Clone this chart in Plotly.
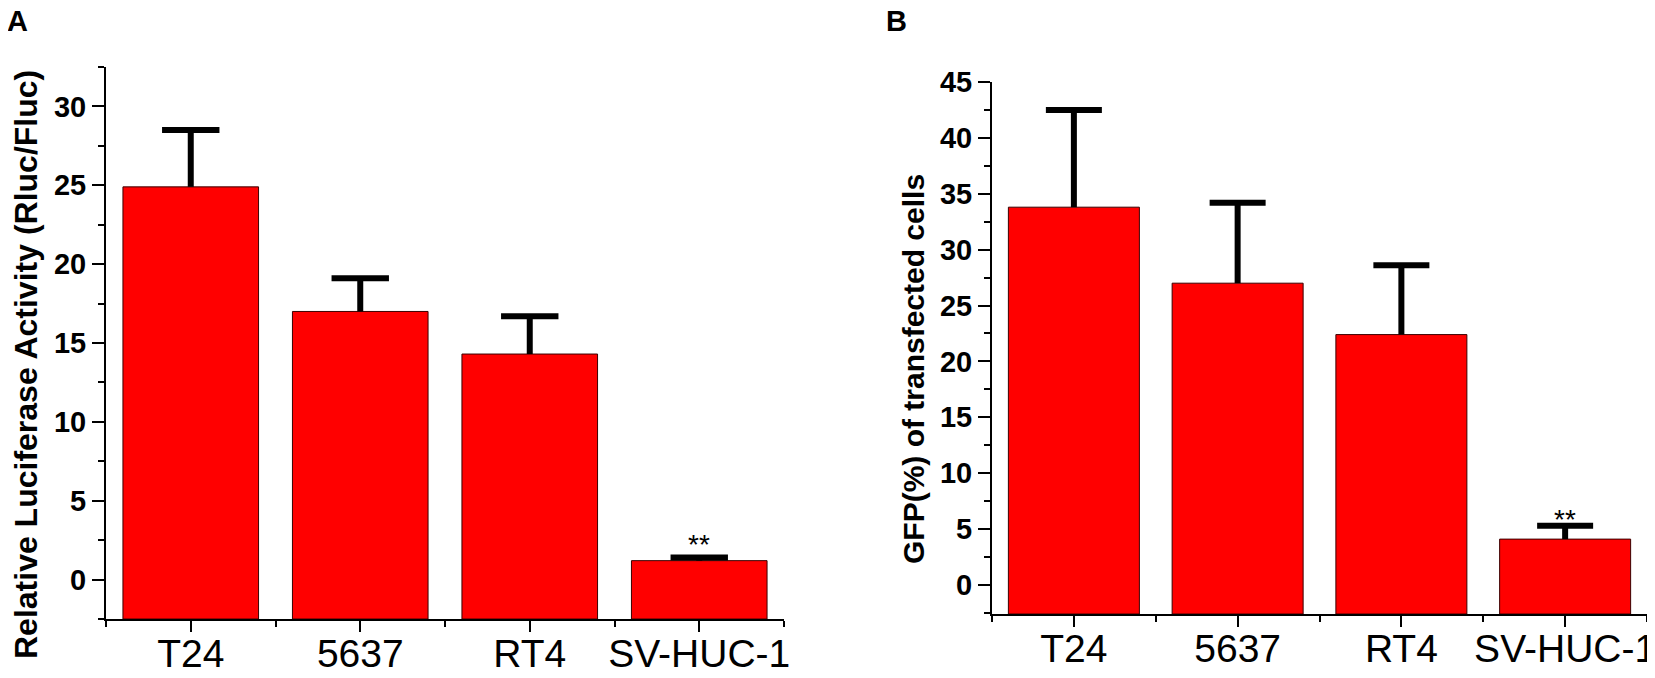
import plotly.graph_objects as go

cell_lines = ["T24", "5637", "RT4", "SV-HUC-1"]

luc_mean = [24.9, 17.0, 14.3, 1.2]
luc_err = [3.6, 2.1, 2.4, 0.2]

gfp_mean = [33.8, 27.0, 22.4, 4.1]
gfp_err = [8.7, 7.2, 6.2, 1.2]

# significance marks, only on the last bar
sig_marks = ["", "", "", "**"]

FONT = "Liberation Sans, Arial, sans-serif"
BAR_RED = "#ff0000"

# the page body keeps its default 8px margin, so the figure is drawn
# 16px smaller than the window and positions are window pixels minus 8
W, H, OFF = 1639, 662, 8


def px_x(p):
    return (p - OFF) / W


def px_y(p):
    return 1 - (p - OFF) / H


xpos = list(range(len(cell_lines)))
minor_x = [i - 0.5 for i in range(len(cell_lines) + 1)]

LUC_RANGE = [-2.5, 32.5]
GFP_RANGE = [-2.6, 45]


def add_panel(fig, mean, err, ymin, xa, ya, cap_px, star_shift):
    # bars start at the bottom of the axis, like in the original figure
    fig.add_trace(go.Bar(
        x=xpos, y=[m - ymin for m in mean], base=ymin, width=0.8,
        marker=dict(color=BAR_RED, line=dict(color="#3a0000", width=1)),
        error_y=dict(type="data", symmetric=False, array=err,
                     arrayminus=[0] * len(err), width=0,
                     thickness=6, color="black"),
        xaxis=xa, yaxis=ya, showlegend=False,
    ))
    # caps of the error bars
    fig.add_trace(go.Scatter(
        x=xpos, y=[m + e for m, e in zip(mean, err)], mode="markers",
        marker=dict(symbol="line-ew", size=cap_px,
                    line=dict(color="black", width=6)),
        xaxis=xa, yaxis=ya, showlegend=False, hoverinfo="skip",
    ))
    for x, m, e, s in zip(xpos, mean, err, sig_marks):
        if s:
            fig.add_annotation(x=x, y=m + e, xref=xa, yref=ya, text=s,
                               showarrow=False, yanchor="bottom",
                               yshift=star_shift,
                               font=dict(family=FONT, size=28, color="black"))


fig = go.Figure()
add_panel(fig, luc_mean, luc_err, LUC_RANGE[0], "x", "y", 41, -5)
add_panel(fig, gfp_mean, gfp_err, GFP_RANGE[0], "x2", "y2", 40, -11)

xcommon = dict(
    range=[-0.5, len(cell_lines) - 0.5], tickmode="array", tickvals=xpos,
    ticktext=cell_lines, ticks="outside", ticklen=11, tickwidth=2,
    tickcolor="black", showline=True, linewidth=2, linecolor="black",
    showgrid=False, zeroline=False, ticklabeloverflow="allow",
    ticklabelstandoff=-12,
    tickfont=dict(family=FONT, size=39, color="black"),
    minor=dict(tickmode="array", tickvals=minor_x, ticks="outside",
               ticklen=6, tickwidth=2, tickcolor="black"),
)
ycommon = dict(
    ticks="outside", ticklen=12, tickwidth=2, tickcolor="black",
    showline=True, linewidth=2, linecolor="black", showgrid=False,
    zeroline=False, dtick=5, tick0=0,
    tickfont=dict(family=FONT, size=29, color="black", weight="bold"),
    minor=dict(dtick=2.5, ticks="outside", ticklen=6, tickwidth=2,
               tickcolor="black"),
)

fig.update_layout(
    width=W, height=H,
    margin=dict(l=0, r=0, t=0, b=0, autoexpand=False),
    plot_bgcolor="white", paper_bgcolor="white",
    xaxis=dict(domain=[px_x(106), px_x(784)], anchor="y", **xcommon),
    yaxis=dict(domain=[px_y(619), px_y(67)], anchor="x",
               range=LUC_RANGE, **ycommon),
    xaxis2=dict(domain=[px_x(992), px_x(1647)], anchor="y2", **xcommon),
    yaxis2=dict(domain=[px_y(614), px_y(82)], anchor="x2",
                range=GFP_RANGE, **ycommon),
)

# axis titles and panel letters
fig.add_annotation(text="Relative Luciferase Activity (Rluc/Fluc)",
                   xref="paper", yref="paper", x=px_x(26), y=px_y(365),
                   xanchor="center", yanchor="middle", textangle=-90,
                   showarrow=False,
                   font=dict(family=FONT, size=32, color="black",
                             weight="bold"))
fig.add_annotation(text="GFP(%) of transfected cells",
                   xref="paper", yref="paper", x=px_x(914), y=px_y(369),
                   xanchor="center", yanchor="middle", textangle=-90,
                   showarrow=False,
                   font=dict(family=FONT, size=30, color="black",
                             weight="bold"))
letter_font = dict(family=FONT, size=29, color="black", weight="bold")
fig.add_annotation(text="A", xref="paper", yref="paper", x=px_x(17),
                   y=1, xanchor="center", yanchor="top", yshift=5,
                   showarrow=False, font=letter_font)
fig.add_annotation(text="B", xref="paper", yref="paper", x=px_x(896),
                   y=1, xanchor="center", yanchor="top", yshift=5,
                   showarrow=False, font=letter_font)

fig.write_html("out.html")
